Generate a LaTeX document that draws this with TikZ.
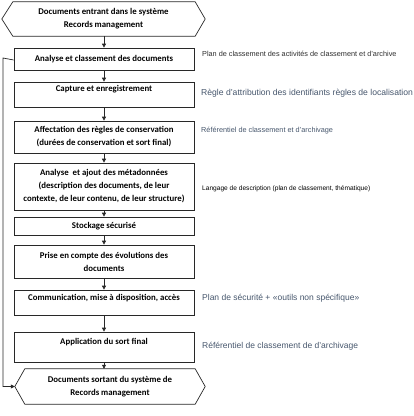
\documentclass[tikz,border=0pt]{standalone}
\usepackage{fontspec}
\setmainfont{Carlito}
\newfontfamily\arialf{Liberation Sans}
\usetikzlibrary{arrows.meta,calc}
\definecolor{lineC}{RGB}{40,40,40}
\definecolor{noteC}{RGB}{70,86,108}
\definecolor{noteD}{RGB}{45,45,45}
\tikzset{
  x=1pt,y=-1pt,
  stepbox/.style={draw=lineC,line width=0.7pt,minimum width=180pt,inner sep=1pt,align=center,font=\fontsize{8.8}{13}\selectfont\bfseries,text=black},
  hexnode/.style={inner sep=0pt,align=center,font=\fontsize{8.8}{13}\selectfont\bfseries,text=black},
  flow/.style={draw=lineC,line width=0.7pt,-{Triangle[length=4pt,width=4pt]}},
  notea/.style={anchor=west,inner sep=0pt,text=noteC,font=\arialf\fontsize{7.3}{8}\selectfont},
  noteb/.style={anchor=west,inner sep=0pt,text=noteD,font=\arialf\fontsize{6.6}{8}\selectfont},
}
\begin{document}
\begin{tikzpicture}
\useasboundingbox (0,0) rectangle (414,416);
% top hexagon
\node[hexnode,minimum width=203pt,minimum height=34pt] (top) at (103.5,19) {Documents entrant dans le système\\Records management};
\draw[draw=lineC,line width=0.7pt] ([xshift=11pt]top.north west) -- ([xshift=-10pt]top.north east) -- (top.east) -- ([xshift=-10pt]top.south east) -- ([xshift=11pt]top.south west) -- (top.west) -- cycle;
% steps
\node[stepbox,minimum height=22pt] (b1) at (104,59) {Analyse et classement des documents};
\node[stepbox,minimum height=25pt] (b2) at (104,94.5) {Capture et enregistrement\\[-1pt]};
\node[stepbox,minimum height=32pt] (b3) at (104,137) {Affectation des règles de conservation\\(durées de conservation et sort final)};
\node[stepbox,minimum height=47pt] (b4) at (104,186.5) {Analyse \ et ajout des métadonnées\\(description des documents, de leur\\contexte, de leur contenu, de leur structure)};
\node[stepbox,minimum height=18pt] (b5) at (104,226) {Stockage sécurisé};
\node[stepbox,minimum height=33pt] (b6) at (104,261.5) {Prise en compte des évolutions des\\documents};
\node[stepbox,minimum height=25pt] (b7) at (104,302.5) {Communication, mise à disposition, accès\\[-2pt]};
\node[stepbox,minimum height=30pt] (b8) at (104,347) {Application du sort final\\[-1pt]};
% bottom hexagon
\node[hexnode,minimum width=190pt,minimum height=35pt] (bot) at (110,386.5) {Documents sortant du système de\\Records management};
\draw[draw=lineC,line width=0.7pt] ([xshift=10pt]bot.north west) -- ([xshift=-10pt]bot.north east) -- (bot.east) -- ([xshift=-10pt]bot.south east) -- ([xshift=10pt]bot.south west) -- (bot.west) -- cycle;
% flow arrows
\draw[flow] (top.south -| b1.north) -- (b1.north);
\draw[flow] (b1) -- (b2);
\draw[flow] (b2) -- (b3);
\draw[flow] (b3) -- (b4);
\draw[flow] (b4) -- (b5);
\draw[flow] (b5) -- (b6);
\draw[flow] (b6) -- (b7);
\draw[flow] (b7) -- (b8);
\draw[flow] (b8.south) -- (b8.south |- bot.north);
% feedback line
\coordinate (fbA) at (3,58);
\draw[flow] ([yshift=-1pt]b1.west) -- (fbA) |- (bot.west);
% notes
\node[noteb,font=\arialf\fontsize{7.3}{8}\selectfont] (n1) at (202,54) {Plan de classement des activités de classement et d’archive};
\node[notea,font=\arialf\fontsize{8.6}{9}\selectfont] (n2) at (201,93) {Règle d’attribution des identifiants règles de localisation};
\node[notea] (n3) at (201,131) {Référentiel de classement et d’archivage};
\node[noteb,text=black] (n4) at (202,189) {Langage de description (plan de classement, thématique)};
\node[notea,font=\arialf\fontsize{8.5}{9}\selectfont] (n5) at (202,298) {Plan de sécurité + «outils non spécifique»};
\node[notea,font=\arialf\fontsize{8.5}{9}\selectfont] (n6) at (202,346) {Référentiel de classement de d’archivage};
\end{tikzpicture}
\end{document}
